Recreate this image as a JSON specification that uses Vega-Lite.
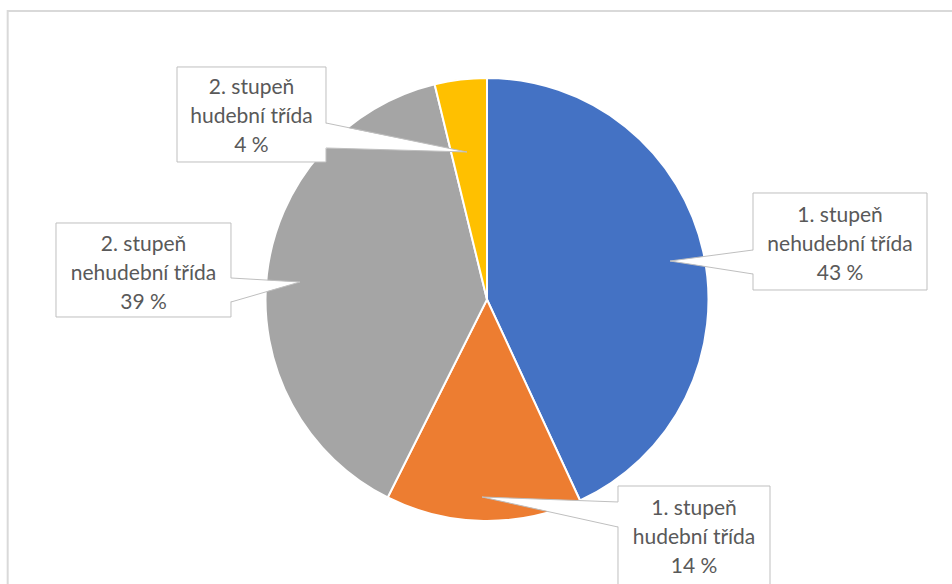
{
  "$schema": "https://vega.github.io/schema/vega-lite/v6.json",
  "width": 952,
  "height": 584,
  "autosize": {"type": "fit", "contains": "padding"},
  "padding": 0,
  "background": "white",
  "view": {"stroke": null},
  "config": {"text": {"font": "Lato"}},
  "datasets": {
    "podily": [
      {"kategorie": "1. stupeň nehudební třída", "podil": 43.1, "poradi": 1},
      {"kategorie": "1. stupeň hudební třída", "podil": 14.3, "poradi": 2},
      {"kategorie": "2. stupeň nehudební třída", "podil": 38.8, "poradi": 3},
      {"kategorie": "2. stupeň hudební třída", "podil": 3.8, "poradi": 4}
    ],
    "popisky": [
      {"kategorie": "1. stupeň nehudební třída", "popis": "1. stupeň\nnehudební třída\n43 %", "x1": 1.2009, "x2": 1.9865, "y1": 0.4808, "y2": 0.0429, "tx": 1.5937, "ty": 0.3499, "hx": 0.8262, "hy": 0.1738, "bx": 1.2009, "bt": 0.2235, "bb": 0.1151},
      {"kategorie": "1. stupeň hudební třída", "popis": "1. stupeň\nhudební třída\n14 %", "x1": 0.5914, "x2": 1.2777, "y1": -0.842, "y2": -1.2935, "tx": 0.9345, "ty": -0.9729, "hx": -0.0226, "hy": -0.8916, "bx": 0.5914, "bt": -0.9142, "bb": -1.0271},
      {"kategorie": "2. stupeň nehudební třída", "popis": "2. stupeň\nnehudební třída\n39 %", "x1": -1.9458, "x2": -1.1558, "y1": 0.3454, "y2": -0.079, "tx": -1.5508, "ty": 0.2167, "hx": -0.8442, "hy": 0.079, "bx": -1.1558, "bt": 0.0971, "bb": -0.0113},
      {"kategorie": "2. stupeň hudební třída", "popis": "2. stupeň\nhudební třída\n4 %", "x1": -1.3995, "x2": -0.7269, "y1": 1.0497, "y2": 0.6208, "tx": -1.0632, "ty": 0.9278, "hx": -0.0903, "hy": 0.6659, "bx": -0.7269, "bt": 0.7968, "bb": 0.684}
    ],
    "spicky": [
      {"kategorie": "1. stupeň nehudební třída", "x": 0.8262, "y": 0.1738, "y2": 0.1738},
      {"kategorie": "1. stupeň nehudební třída", "x": 1.2109, "y": 0.2235, "y2": 0.1151},
      {"kategorie": "1. stupeň hudební třída", "x": -0.0226, "y": -0.8916, "y2": -0.8916},
      {"kategorie": "1. stupeň hudební třída", "x": 0.6014, "y": -0.9142, "y2": -1.0271},
      {"kategorie": "2. stupeň nehudební třída", "x": -0.8442, "y": 0.079, "y2": 0.079},
      {"kategorie": "2. stupeň nehudební třída", "x": -1.1658, "y": 0.0971, "y2": -0.0113},
      {"kategorie": "2. stupeň hudební třída", "x": -0.0903, "y": 0.6659, "y2": 0.6659},
      {"kategorie": "2. stupeň hudební třída", "x": -0.7369, "y": 0.7968, "y2": 0.684}
    ],
    "ramecek": [
      {"x1": -2.1639, "x2": 2.3, "y1": 1.3025, "y2": -1.5}
    ]
  },
  "layer": [
    {
      "data": {"name": "ramecek"},
      "mark": {"type": "rect", "filled": false, "stroke": "#d9d9d9", "strokeWidth": 2, "clip": true},
      "encoding": {
        "x": {"field": "x1", "type": "quantitative", "scale": {"domain": [-2.1986, 2.0993], "nice": false, "zero": false}, "axis": null},
        "x2": {"field": "x2"},
        "y": {"field": "y1", "type": "quantitative", "scale": {"domain": [-1.2844, 1.3521], "nice": false, "zero": false}, "axis": null},
        "y2": {"field": "y2"}
      }
    },
    {
      "data": {"name": "podily"},
      "mark": {"type": "arc", "radius": 221.5, "stroke": "white", "strokeWidth": 2},
      "encoding": {
        "x": {"datum": 0, "type": "quantitative", "scale": {"domain": [-2.1986, 2.0993], "nice": false, "zero": false}, "axis": null},
        "y": {"datum": 0, "type": "quantitative", "scale": {"domain": [-1.2844, 1.3521], "nice": false, "zero": false}, "axis": null},
        "theta": {"field": "podil", "type": "quantitative", "stack": true},
        "order": {"field": "poradi", "type": "quantitative"},
        "color": {
          "field": "kategorie",
          "type": "nominal",
          "scale": {
            "domain": ["1. stupeň nehudební třída", "1. stupeň hudební třída", "2. stupeň nehudební třída", "2. stupeň hudební třída"],
            "range": ["#4472C4", "#ED7D31", "#A5A5A5", "#FFC000"]
          },
          "legend": null
        }
      }
    },
    {
      "data": {"name": "popisky"},
      "mark": {"type": "rect", "fill": "white", "stroke": "#bfbfbf", "strokeWidth": 1, "clip": true},
      "encoding": {
        "x": {"field": "x1", "type": "quantitative", "scale": {"domain": [-2.1986, 2.0993], "nice": false, "zero": false}, "axis": null},
        "x2": {"field": "x2"},
        "y": {"field": "y1", "type": "quantitative", "scale": {"domain": [-1.2844, 1.3521], "nice": false, "zero": false}, "axis": null},
        "y2": {"field": "y2"}
      }
    },
    {
      "data": {"name": "spicky"},
      "mark": {"type": "area", "fill": "white", "opacity": 1, "orient": "vertical"},
      "encoding": {
        "x": {"field": "x", "type": "quantitative", "scale": {"domain": [-2.1986, 2.0993], "nice": false, "zero": false}, "axis": null},
        "y": {"field": "y", "type": "quantitative", "stack": null, "scale": {"domain": [-1.2844, 1.3521], "nice": false, "zero": false}, "axis": null},
        "y2": {"field": "y2"},
        "detail": {"field": "kategorie", "type": "nominal"}
      }
    },
    {
      "data": {"name": "popisky"},
      "mark": {"type": "rule", "stroke": "#bfbfbf", "strokeWidth": 1},
      "encoding": {
        "x": {"field": "hx", "type": "quantitative", "scale": {"domain": [-2.1986, 2.0993], "nice": false, "zero": false}, "axis": null},
        "y": {"field": "hy", "type": "quantitative", "scale": {"domain": [-1.2844, 1.3521], "nice": false, "zero": false}, "axis": null},
        "x2": {"field": "bx"},
        "y2": {"field": "bt"}
      }
    },
    {
      "data": {"name": "popisky"},
      "mark": {"type": "rule", "stroke": "#bfbfbf", "strokeWidth": 1},
      "encoding": {
        "x": {"field": "hx", "type": "quantitative", "scale": {"domain": [-2.1986, 2.0993], "nice": false, "zero": false}, "axis": null},
        "y": {"field": "hy", "type": "quantitative", "scale": {"domain": [-1.2844, 1.3521], "nice": false, "zero": false}, "axis": null},
        "x2": {"field": "bx"},
        "y2": {"field": "bb"}
      }
    },
    {
      "data": {"name": "popisky"},
      "mark": {"type": "text", "align": "center", "baseline": "alphabetic", "lineBreak": "\n", "fontSize": 21, "lineHeight": 29, "fill": "#595959"},
      "encoding": {
        "x": {"field": "tx", "type": "quantitative", "scale": {"domain": [-2.1986, 2.0993], "nice": false, "zero": false}, "axis": null},
        "y": {"field": "ty", "type": "quantitative", "scale": {"domain": [-1.2844, 1.3521], "nice": false, "zero": false}, "axis": null},
        "text": {"field": "popis", "type": "nominal"}
      }
    }
  ]
}
